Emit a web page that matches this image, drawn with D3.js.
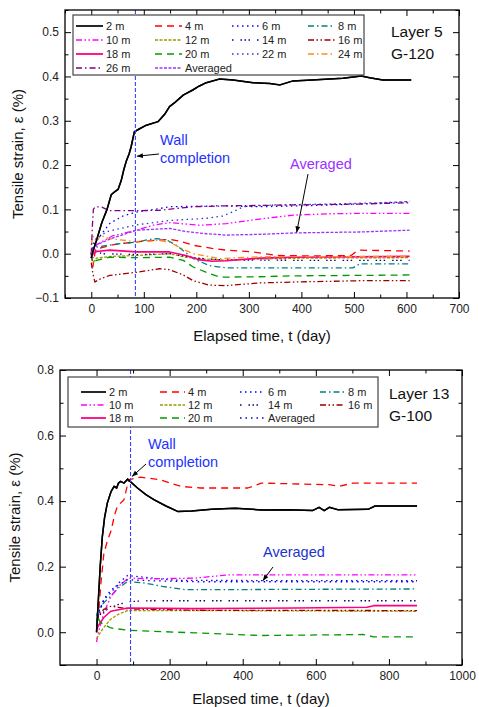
<!DOCTYPE html>
<html lang="en">
<head>
<meta charset="UTF-8">
<title>Tensile strain</title>
<script src="https://cdn.jsdelivr.net/npm/d3@7/dist/d3.min.js"></script>
<style>
  body { margin: 0; background: #fff; }
  text { font-family: "Liberation Sans", Arial, sans-serif; }
</style>
</head>
<body>
<svg width="479" height="707"></svg>
<script>
// ---- data: Layer 5, G-120 (t in day, strain in %) ----
var L5_2m  = [[0,-0.01],[3,0.005],[10,0.03],[20,0.07],[30,0.1],[38,0.133],[45,0.14],[51,0.145],[57,0.165],[62,0.19],[67,0.21],[72,0.225],[76,0.242],[82,0.275],[92,0.282],[105,0.29],[127,0.298],[140,0.315],[149,0.332],[160,0.342],[175,0.358],[194,0.37],[205,0.378],[219,0.386],[244,0.394],[270,0.392],[308,0.386],[340,0.384],[359,0.381],[384,0.39],[420,0.392],[479,0.396],[514,0.401],[530,0.397],[555,0.392],[609,0.392]];
var L5_4m  = [[0,0],[3,-0.03],[8,0.01],[40,0.02],[86,0.027],[120,0.03],[150,0.032],[170,0.028],[194,0.019],[230,0.012],[257,0.008],[308,0.004],[352,-0.004],[420,-0.005],[495,-0.004],[505,0.006],[511,0.008],[606,0.006]];
var L5_6m  = [[0,0],[5,0.02],[20,0.045],[35,0.068],[60,0.085],[86,0.094],[120,0.1],[150,0.106],[250,0.108],[320,0.106],[400,0.108],[506,0.112],[606,0.117]];
var L5_8m  = [[0,0],[3,0.01],[10,0.015],[50,0.022],[86,0.026],[110,0.032],[125,0.034],[145,0.03],[162,0.019],[194,-0.011],[225,-0.027],[257,-0.032],[384,-0.032],[498,-0.032],[511,-0.023],[606,-0.023]];
var L5_10m = [[0,0],[3,-0.01],[10,0.02],[40,0.04],[86,0.053],[120,0.065],[150,0.07],[170,0.068],[207,0.064],[257,0.068],[320,0.078],[384,0.087],[450,0.09],[511,0.091],[606,0.091]];
var L5_12m = [[0,0],[3,-0.02],[10,-0.01],[40,-0.006],[86,-0.004],[149,0.0],[180,-0.008],[215,-0.012],[257,-0.015],[320,-0.012],[400,-0.01],[606,-0.009]];
var L5_14m = [[0,0],[3,0.01],[20,0.0],[86,-0.002],[150,0.0],[200,-0.01],[250,-0.014],[400,-0.015],[606,-0.015]];
var L5_16m = [[0,-0.02],[3,-0.045],[7,-0.064],[15,-0.058],[35,-0.049],[86,-0.042],[130,-0.034],[149,-0.036],[175,-0.048],[194,-0.061],[225,-0.071],[257,-0.072],[320,-0.066],[384,-0.064],[511,-0.061],[606,-0.061]];
var L5_18m = [[0,-0.01],[3,0.0],[10,0.005],[35,0.008],[86,0.004],[149,0.004],[180,-0.004],[207,-0.014],[230,-0.017],[257,-0.016],[320,-0.01],[384,-0.008],[511,-0.007],[606,-0.006]];
var L5_20m = [[0,0],[3,-0.02],[10,-0.015],[35,-0.008],[86,-0.009],[149,-0.008],[175,-0.015],[194,-0.03],[225,-0.045],[245,-0.053],[320,-0.052],[384,-0.05],[511,-0.049],[606,-0.048]];
var L5_22m = [[0,0],[5,0.03],[30,0.05],[86,0.065],[150,0.075],[220,0.08],[250,0.085],[270,0.095],[290,0.106],[350,0.11],[450,0.112],[550,0.115],[606,0.118]];
var L5_24m = [[0,0.02],[3,0.04],[8,0.03],[20,0.04],[35,0.034],[86,0.027],[130,0.03],[149,0.026],[175,0.01],[194,0.0],[230,-0.008],[245,-0.011],[320,-0.007],[606,-0.006]];
var L5_26m = [[0,0],[2,0.06],[4,0.1],[8,0.106],[20,0.105],[35,0.097],[86,0.097],[130,0.098],[194,0.106],[257,0.108],[384,0.11],[511,0.112],[606,0.115]];
var L5_avg = [[0,0],[3,0.01],[10,0.02],[40,0.035],[86,0.053],[150,0.057],[180,0.05],[220,0.045],[257,0.042],[330,0.044],[390,0.047],[511,0.049],[606,0.053]];

// ---- data: Layer 13, G-100 ----
var L13_2m  = [[0,0.0],[5,0.1],[10,0.2],[15.7,0.29],[22,0.35],[29.5,0.394],[40,0.43],[48,0.445],[55,0.44],[60,0.455],[66,0.46],[75,0.455],[85,0.467],[112,0.44],[135,0.42],[158,0.404],[190,0.385],[223,0.368],[260,0.37],[315,0.375],[379,0.378],[453,0.373],[520,0.374],[591,0.371],[609,0.381],[623,0.371],[637,0.381],[660,0.374],[743,0.375],[762,0.385],[877,0.385]];
var L13_4m  = [[0,0.0],[5,0.05],[12,0.15],[20,0.24],[30,0.28],[39,0.307],[50,0.36],[57,0.384],[75,0.404],[88,0.465],[120,0.473],[175,0.465],[230,0.445],[285,0.44],[414,0.44],[451,0.455],[636,0.45],[664,0.445],[701,0.455],[877,0.455]];
var L13_6m  = [[0,0.02],[5,0.06],[20,0.1],[39,0.12],[60,0.15],[85,0.173],[130,0.168],[177,0.162],[230,0.158],[877,0.157]];
var L13_8m  = [[0,0.05],[5,0.07],[20,0.09],[39,0.11],[60,0.135],[85,0.155],[131,0.15],[180,0.14],[241,0.13],[361,0.13],[600,0.131],[877,0.132]];
var L13_10m = [[0,-0.03],[5,0.0],[20,0.06],[40,0.11],[60,0.14],[85,0.163],[94,0.165],[150,0.163],[269,0.165],[361,0.175],[877,0.175]];
var L13_12m = [[0,-0.02],[5,-0.01],[20,0.015],[39,0.04],[60,0.055],[85,0.066],[269,0.066],[877,0.064]];
var L13_14m = [[0,0.03],[5,0.05],[30,0.07],[60,0.085],[94,0.094],[150,0.096],[877,0.096]];
var L13_16m = [[0,0.02],[5,0.05],[20,0.07],[39,0.079],[60,0.076],[85,0.071],[269,0.067],[877,0.066]];
var L13_18m = [[0,0.008],[5,0.02],[20,0.045],[39,0.064],[85,0.074],[269,0.072],[546,0.074],[740,0.076],[758,0.081],[877,0.081]];
var L13_20m = [[0,0.02],[2,0.049],[10,0.03],[39,0.013],[85,0.006],[269,-0.002],[453,-0.01],[730,-0.007],[758,-0.014],[877,-0.014]];
var L13_avg = [[0,0.01],[5,0.05],[20,0.1],[40,0.13],[85,0.16],[150,0.157],[269,0.154],[877,0.154]];

var wallTop = 84, wallBottom = 93;

// line styles per series name
var styles = {
  '2 m':  {c:'#000000', d:null, w:1.5},
  '4 m':  {c:'#ff0000', d:'7,5', w:1.3},
  '6 m':  {c:'#0000ff', d:'1.5,3.5', w:1.3},
  '8 m':  {c:'#008080', d:'6,3,1.5,3', w:1.3},
  '10 m': {c:'#ff00ff', d:'6,2.5,1.5,2.5,1.5,2.5', w:1.3},
  '12 m': {c:'#999900', d:'3,1.5', w:1.3},
  '14 m': {c:'#000080', d:'1.5,7,1.5,2.5,1.5,2.5', w:1.3},
  '16 m': {c:'#990000', d:'6,2.5,1.5,2.5,1.5,2.5', w:1.3},
  '18 m': {c:'#ff0080', d:null, w:1.6},
  '20 m': {c:'#009900', d:'7,5', w:1.3},
  '22 m': {c:'#3333cc', d:'1.5,3.5', w:1.3},
  '24 m': {c:'#ff8c1a', d:'6,3,1.5,3', w:1.3},
  '26 m': {c:'#800080', d:'6,3,1.5,3', w:1.3}
};

var svg = d3.select('svg');

svg.append('defs').append('marker')
  .attr('id','arr').attr('viewBox','0 0 10 10').attr('refX',10).attr('refY',5)
  .attr('markerWidth',7).attr('markerHeight',6).attr('orient','auto')
  .append('path').attr('d','M0,1 L10,5 L0,9 Z').attr('fill','#000');

function panel(cfg) {
  var x = d3.scaleLinear().domain(cfg.xd).range(cfg.xr);
  var y = d3.scaleLinear().domain(cfg.yd).range(cfg.yr);
  var g = svg.append('g');
  var x0 = cfg.xr[0], x1 = cfg.xr[1], y0 = cfg.yr[0], y1 = cfg.yr[1];

  // axes (ticks inward on all four sides)
  function ax(axis, tx, ty, major, minor, fmt) {
    var a = g.append('g').attr('transform','translate('+tx+','+ty+')')
      .call(axis.scale(axis === null ? x : axis.scale()).tickValues(major).tickSize(-6).tickPadding(6).tickFormat(fmt));
    a.select('.domain').remove();
    a.selectAll('text').attr('font-size',12).attr('fill','#222');
    a.selectAll('line').attr('stroke-width',1);
    return a;
  }
  var fmtY = d3.format('.1f');
  ax(d3.axisBottom(x), 0, y0, cfg.xMajor, null, d3.format('d'));
  ax(d3.axisTop(x), 0, y1, cfg.xMajor, null, '');
  ax(d3.axisLeft(y), x0, 0, cfg.yMajor, null, function(v){ return cfg.yLabels.indexOf(v) >= 0 ? fmtY(v) : ''; });
  ax(d3.axisRight(y), x1, 0, cfg.yMajor, null, '');
  [[d3.axisBottom(x),0,y0,cfg.xMinor],[d3.axisTop(x),0,y1,cfg.xMinor],
   [d3.axisLeft(y),x0,0,cfg.yMinor],[d3.axisRight(y),x1,0,cfg.yMinor]].forEach(function(m){
    var a = g.append('g').attr('transform','translate('+m[1]+','+m[2]+')')
      .call(m[0].tickValues(m[3]).tickSize(-3.5).tickFormat(''));
    a.select('.domain').remove();
    a.selectAll('line').attr('stroke-width',1);
  });

  var clip = 'clip' + cfg.id;
  g.append('clipPath').attr('id',clip).append('rect')
    .attr('x',x0).attr('y',y1).attr('width',x1-x0).attr('height',y0-y1);

  var line = d3.line().x(function(d){return x(d[0]);}).y(function(d){return y(d[1]);});
  var lines = g.append('g').attr('clip-path','url(#'+clip+')');

  cfg.series.forEach(function(s){
    var st = s.style;
    lines.append('path').datum(s.data).attr('d',line)
      .attr('fill','none').attr('stroke',st.c).attr('stroke-width',st.w)
      .attr('stroke-dasharray',st.d).attr('stroke-linejoin','round');
  });
  // black 2 m on top
  lines.append('path').datum(cfg.series[0].data).attr('d',line)
    .attr('fill','none').attr('stroke','#000').attr('stroke-width',1.5);

  // wall completion
  g.append('line').attr('x1',x(cfg.wall)).attr('x2',x(cfg.wall)).attr('y1',y1).attr('y2',y0)
    .attr('stroke','#3344ff').attr('stroke-width',1.1).attr('stroke-dasharray','4,2');

  g.append('rect').attr('x',x0).attr('y',y1).attr('width',x1-x0).attr('height',y0-y1)
    .attr('fill','none').attr('stroke','#000').attr('stroke-width',1.3);

  // legend
  var lg = cfg.legend;
  g.append('rect').attr('x',lg.box[0]).attr('y',lg.box[1]).attr('width',lg.box[2]).attr('height',lg.box[3])
    .attr('fill','#fff').attr('stroke','#444').attr('stroke-width',1.2);
  cfg.series.forEach(function(s, i){
    var col = i % 4, row = Math.floor(i / 4);
    var sx = lg.cols[col], sy = lg.rows[row], st = s.style;
    g.append('line').attr('x1',sx).attr('x2',sx+lg.len).attr('y1',sy).attr('y2',sy)
      .attr('stroke',st.c).attr('stroke-width',st.w+0.2).attr('stroke-dasharray',st.d);
    g.append('text').attr('x',sx+lg.len+3).attr('y',sy+4).attr('font-size',11).attr('fill','#222').text(s.name);
  });

  // layer label
  g.append('text').attr('x',cfg.tag[0]).attr('y',cfg.tag[1]).attr('font-size',15.5).attr('fill','#111').text(cfg.tagText[0]);
  g.append('text').attr('x',cfg.tag[0]).attr('y',cfg.tag[1]+22).attr('font-size',15.5).attr('fill','#111').text(cfg.tagText[1]);

  // axis titles
  g.append('text').attr('x',(x0+x1)/2).attr('y',cfg.xTitleY).attr('text-anchor','middle')
    .attr('font-size',15).attr('fill','#111').text('Elapsed time, t (day)');
  g.append('text').attr('transform','translate('+cfg.yTitleX+','+((y0+y1)/2)+') rotate(-90)')
    .attr('text-anchor','middle').attr('font-size',15).attr('fill','#111').text('Tensile strain, \u03b5 (%)');

  // annotations
  var wl = cfg.wallLabel;
  g.append('text').attr('x',wl[0]).attr('y',wl[1]).attr('font-size',14.5).attr('fill','#2233ff').text('Wall');
  g.append('text').attr('x',wl[0]).attr('y',wl[1]+18).attr('font-size',14.5).attr('fill','#2233ff').text('completion');
  g.append('line').attr('x1',wl[2]).attr('y1',wl[3]).attr('x2',x(cfg.wall)+1.5).attr('y2',y(cfg.wallPt))
    .attr('stroke','#000').attr('stroke-width',1).attr('marker-end','url(#arr)');
  var al = cfg.avgLabel;
  g.append('text').attr('x',al[0]).attr('y',al[1]).attr('font-size',14.5).attr('fill',cfg.avgColor).text('Averaged');
  g.append('line').attr('x1',al[2]).attr('y1',al[3]).attr('x2',x(cfg.avgPt[0])).attr('y2',y(cfg.avgPt[1]))
    .attr('stroke','#000').attr('stroke-width',1).attr('marker-end','url(#arr)');
}

var topNames = ['2 m','4 m','6 m','8 m','10 m','12 m','14 m','16 m','18 m','20 m','22 m','24 m','26 m'];
var topData = [L5_2m,L5_4m,L5_6m,L5_8m,L5_10m,L5_12m,L5_14m,L5_16m,L5_18m,L5_20m,L5_22m,L5_24m,L5_26m];
var topSeries = topNames.map(function(n,i){ return {name:n, data:topData[i], style:styles[n]}; });
topSeries.push({name:'Averaged', data:L5_avg, style:{c:'#9933ff', d:'3,1.5', w:1.3}});

panel({
  id: 'a', xd:[-50,700], xr:[65,459], yd:[-0.1,0.55], yr:[298,10],
  xMajor: d3.range(0,701,100), xMinor: d3.range(-50,701,50).filter(function(v){return v % 100 !== 0;}),
  yMajor: [-0.1,0,0.1,0.2,0.3,0.4,0.5], yLabels: [-0.1,0,0.1,0.2,0.3,0.4,0.5],
  yMinor: [-0.05,0.05,0.15,0.25,0.35,0.45,0.55],
  series: topSeries, wall: wallTop, wallPt: 0.22,
  legend: {box:[73,15,291,60], cols:[76,155,232,308], rows:[26,40,54,68], len:27},
  tag:[391,37], tagText:['Layer 5','G-120'],
  xTitleY: 341, yTitleX: 23,
  wallLabel:[160,145,159,154], avgLabel:[290,169,308,174], avgPt:[391,0.048], avgColor:'#9933ff'
});

var botNames = ['2 m','4 m','6 m','8 m','10 m','12 m','14 m','16 m','18 m','20 m'];
var botData = [L13_2m,L13_4m,L13_6m,L13_8m,L13_10m,L13_12m,L13_14m,L13_16m,L13_18m,L13_20m];
var botSeries = botNames.map(function(n,i){ return {name:n, data:botData[i], style:styles[n]}; });
botSeries.push({name:'Averaged', data:L13_avg, style:{c:'#0000cc', d:'1.5,4', w:1.3}});

panel({
  id: 'b', xd:[-100,1000], xr:[60,462], yd:[-0.1,0.8], yr:[665,370],
  xMajor: d3.range(0,1001,200), xMinor: d3.range(100,1000,200),
  yMajor: [-0.1,0,0.2,0.4,0.6,0.8], yLabels: [0,0.2,0.4,0.6,0.8],
  yMinor: [0.1,0.3,0.5,0.7],
  series: botSeries, wall: wallBottom, wallPt: 0.475,
  legend: {box:[68,377,310,50], cols:[81,160,240,320], rows:[392,405,418], len:25},
  tag:[389,399], tagText:['Layer 13','G-100'],
  xTitleY: 704, yTitleX: 20,
  wallLabel:[148,449,146,464], avgLabel:[263,557,273,567], avgPt:[455,0.157], avgColor:'#2233cc'
});
</script>
</body>
</html>
